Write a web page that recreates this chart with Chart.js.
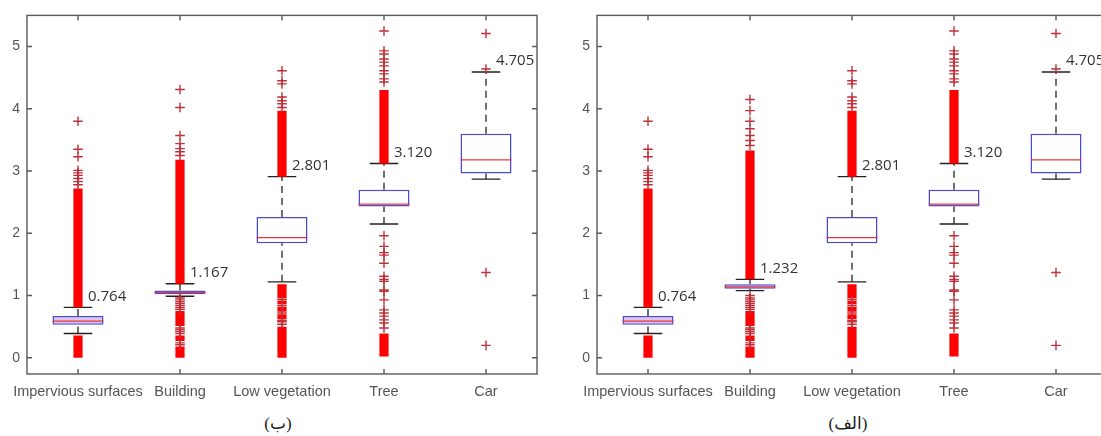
<!DOCTYPE html>
<html>
<head>
<meta charset="utf-8">
<script src="https://cdn.jsdelivr.net/npm/chart.js@4.4.0/dist/chart.umd.min.js"></script>
<style>
html, body { margin: 0; padding: 0; background: #fff; width: 1101px; height: 436px; overflow: hidden; position: relative; }
canvas { position: absolute; top: 0; }
#chartB { left: 0; }
#chartA { left: 570px; }
.caption { position: absolute; top: 413px; font: 17px "Liberation Serif", "DejaVu Sans", serif; color: #222; transform: translateX(-50%); white-space: nowrap; }
</style>
</head>
<body>
<canvas id="chartB" width="547" height="410"></canvas>
<canvas id="chartA" width="547" height="410"></canvas>
<div class="caption" style="left:278px" dir="rtl">(ب)</div>
<div class="caption" style="left:848px" dir="rtl">(الف)</div>
<script>
const categories = ['Impervious surfaces', 'Building', 'Low vegetation', 'Tree', 'Car'];
const yTicks = [0, 1, 2, 3, 4, 5];

// panel (ب)
const q1B = [0.53, 1.02, 1.84, 2.43, 2.96];
const medB = [0.59, 1.05, 1.93, 2.47, 3.18];
const q3B = [0.67, 1.08, 2.26, 2.70, 3.60];
const loB = [0.39, 0.99, 1.22, 2.15, 2.87];
const hiB = [0.81, 1.19, 2.91, 3.12, 4.59];
const labelsB = ['0.764', '1.167', '2.801', '3.120', '4.705'];
const denseB = [
    [[0, 0.36], [0.81, 2.72]],
    [[0, 0.18], [0.27, 0.36], [0.51, 0.75], [1.19, 3.18]],
    [[0, 0.5], [0.62, 0.7], [0.74, 0.82], [0.86, 0.92], [0.96, 1.18], [2.91, 3.97]],
    [[0.02, 0.39], [3.12, 4.3]],
    []
];
const outB = [
    [2.78, 2.83, 2.88, 2.93, 2.97, 3.01, 3.23, 3.35, 3.80],
    [0.21, 0.24, 0.39, 0.42, 0.45, 0.48, 0.78, 0.81, 0.84, 0.87, 0.90, 0.93, 0.96,
     3.25, 3.31, 3.36, 3.44, 3.57, 4.02, 4.31],
    [0.54, 0.58, 0.60, 0.72, 0.84, 0.94, 4.02, 4.08, 4.13, 4.19, 4.40, 4.45, 4.61],
    [0.48, 0.56, 0.61, 0.67, 0.72, 0.77, 0.93, 1.07, 1.09, 1.23, 1.26, 1.31, 1.52, 1.65, 1.69, 1.79, 1.96,
     4.43, 4.48, 4.56, 4.61, 4.69, 4.75, 4.80, 4.88, 4.93, 5.25],
    [0.20, 1.37, 4.64, 5.21]
];

// panel (الف)
const q1A = [0.53, 1.11, 1.84, 2.43, 2.96];
const medA = [0.59, 1.14, 1.93, 2.47, 3.18];
const q3A = [0.67, 1.18, 2.26, 2.70, 3.60];
const loA = [0.39, 1.08, 1.22, 2.15, 2.87];
const hiA = [0.81, 1.26, 2.91, 3.12, 4.59];
const labelsA = ['0.764', '1.232', '2.801', '3.120', '4.705'];
const denseA = [
    [[0, 0.36], [0.81, 2.72]],
    [[0, 0.18], [0.27, 0.36], [0.51, 0.75], [1.26, 3.33]],
    [[0, 0.5], [0.62, 0.7], [0.74, 0.82], [0.86, 0.92], [0.96, 1.18], [2.91, 3.97]],
    [[0.02, 0.39], [3.12, 4.3]],
    []
];
const outA = [
    [2.78, 2.83, 2.88, 2.93, 2.97, 3.01, 3.23, 3.35, 3.80],
    [0.21, 0.24, 0.39, 0.42, 0.45, 0.48, 0.78, 0.81, 0.84, 0.87, 0.90, 0.93, 0.96, 1.00,
     3.41, 3.49, 3.57, 3.68, 3.80, 3.97, 4.15],
    [0.54, 0.58, 0.60, 0.72, 0.84, 0.94, 4.02, 4.08, 4.13, 4.19, 4.40, 4.45, 4.61],
    [0.48, 0.56, 0.61, 0.67, 0.72, 0.77, 0.93, 1.07, 1.09, 1.23, 1.26, 1.31, 1.52, 1.65, 1.69, 1.79, 1.96,
     4.43, 4.48, 4.56, 4.61, 4.69, 4.75, 4.80, 4.88, 4.93, 5.25],
    [0.20, 1.37, 4.64, 5.21]
];

const boxFill = ['#dcc6ee', '#dcc6ee', '#ffffff', '#ffffff', '#ffffff'];
const BOX_HALF = 0.25;
const CAP_HALF = 0.14;

// box outline, inward ticks on all sides
const framePlugin = {
    id: 'frame',
    afterDraw(chart) {
        const { ctx, chartArea: a, scales: { x, y } } = chart;
        ctx.save();
        ctx.strokeStyle = '#5a5a5a';
        ctx.lineWidth = 1.4;
        ctx.strokeRect(a.left, a.top, a.right - a.left, a.bottom - a.top);
        ctx.beginPath();
        y.ticks.forEach(t => {
            const py = y.getPixelForValue(t.value);
            ctx.moveTo(a.left, py); ctx.lineTo(a.left + 5, py);
            ctx.moveTo(a.right, py); ctx.lineTo(a.right - 5, py);
        });
        x.ticks.forEach(t => {
            const px = x.getPixelForValue(t.value);
            ctx.moveTo(px, a.bottom); ctx.lineTo(px, a.bottom - 5);
            ctx.moveTo(px, a.top); ctx.lineTo(px, a.top + 5);
        });
        ctx.stroke();
        ctx.restore();
    }
};

// value next to each upper whisker
const whiskerLabels = {
    id: 'whiskerLabels',
    afterDatasetsDraw(chart, args, opts) {
        const { ctx, scales: { x, y } } = chart;
        ctx.save();
        ctx.font = '15px "Open Sans", sans-serif';
        ctx.fillStyle = '#333';
        ctx.textAlign = 'left';
        ctx.textBaseline = 'middle';
        opts.labels.forEach((txt, i) => {
            ctx.fillText(txt, x.getPixelForValue(i + 1) + 10, y.getPixelForValue(opts.at[i]) - 11);
        });
        ctx.restore();
    }
};

function boxChart(id, q1, med, q3, lo, hi, dense, out, labels) {
    const xs = categories.map((c, i) => i + 1);
    const denseData = [];
    dense.forEach((ranges, i) => ranges.forEach(r => denseData.push({ x: xs[i], y: r })));
    const boxData = xs.map((x, i) => ({ x: x, y: [q1[i], q3[i]] }));
    const medData = [], whiskData = [], capData = [], outData = [];
    xs.forEach((x, i) => {
        medData.push({ x: x - BOX_HALF, y: med[i] }, { x: x + BOX_HALF, y: med[i] }, { x: x, y: null });
        whiskData.push({ x: x, y: q3[i] }, { x: x, y: hi[i] }, { x: x, y: null },
                       { x: x, y: lo[i] }, { x: x, y: q1[i] }, { x: x, y: null });
        capData.push({ x: x - CAP_HALF, y: hi[i] }, { x: x + CAP_HALF, y: hi[i] }, { x: x, y: null },
                     { x: x - CAP_HALF, y: lo[i] }, { x: x + CAP_HALF, y: lo[i] }, { x: x, y: null });
        out[i].forEach(v => outData.push({ x: x, y: v }));
    });

    new Chart(document.getElementById(id), {
        type: 'bar',
        data: {
            datasets: [
                { type: 'line', data: whiskData, borderColor: '#222', borderWidth: 1.3, borderDash: [7, 5],
                  pointRadius: 0, spanGaps: false, order: 5 },
                { type: 'line', data: capData, borderColor: '#222', borderWidth: 1.4,
                  pointRadius: 0, spanGaps: false, order: 4 },
                { data: denseData, backgroundColor: '#ff0000', borderWidth: 0, grouped: false,
                  barPercentage: 0.09, categoryPercentage: 1, order: 3 },
                { data: boxData, backgroundColor: boxFill, borderColor: '#4b4bd2', borderWidth: 1.5,
                  borderSkipped: false, grouped: false, barPercentage: 0.5, categoryPercentage: 1, order: 2 },
                { type: 'line', data: medData, borderColor: '#e8383d', borderWidth: 1.3,
                  pointRadius: 0, spanGaps: false, order: 1 },
                { type: 'line', data: outData, showLine: false, pointStyle: 'cross', pointRadius: 4.8,
                  pointBorderColor: '#c0303a', pointBorderWidth: 1.4, order: 0 }
            ]
        },
        options: {
            responsive: false,
            animation: false,
            layout: { padding: { top: 14, right: 10, left: 0, bottom: 0 } },
            plugins: {
                legend: { display: false },
                tooltip: { enabled: false },
                whiskerLabels: { labels: labels, at: hi }
            },
            scales: {
                x: {
                    type: 'linear', min: 0.5, max: 5.5, offset: false,
                    grid: { display: false, drawTicks: false },
                    border: { display: false },
                    afterBuildTicks: s => { s.ticks = xs.map(v => ({ value: v })); },
                    afterFit: s => { s.height = 36; },
                    ticks: {
                        autoSkip: false, maxRotation: 0, padding: 9, color: '#555',
                        font: { family: '"Liberation Sans", Arial, sans-serif', size: 14.5 },
                        callback: v => categories[v - 1]
                    }
                },
                y: {
                    min: -0.26, max: 5.5,
                    grid: { display: false, drawTicks: false },
                    border: { display: false },
                    afterBuildTicks: s => { s.ticks = yTicks.map(v => ({ value: v })); },
                    afterFit: s => { s.width = 27; },
                    ticks: {
                        padding: 7, color: '#555',
                        font: { family: '"Liberation Sans", Arial, sans-serif', size: 14 }
                    }
                }
            }
        },
        plugins: [framePlugin, whiskerLabels]
    });
}

boxChart('chartB', q1B, medB, q3B, loB, hiB, denseB, outB, labelsB);
boxChart('chartA', q1A, medA, q3A, loA, hiA, denseA, outA, labelsA);
</script>
</body>
</html>
